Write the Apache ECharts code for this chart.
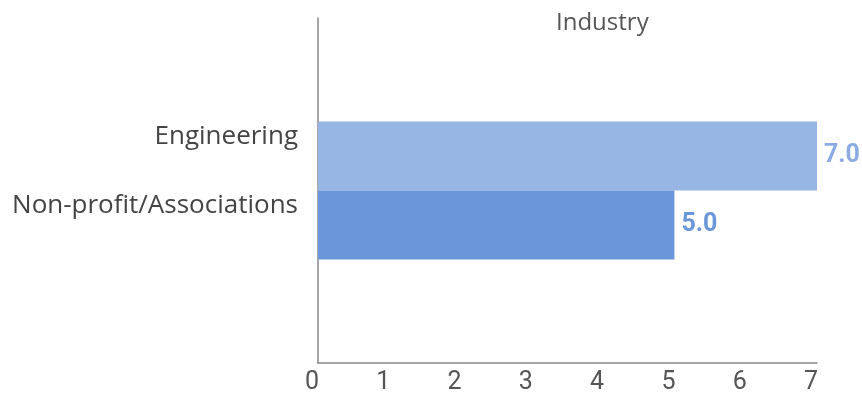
<!DOCTYPE html>
<html>
<head>
<meta charset="utf-8">
<script src="https://cdn.jsdelivr.net/npm/echarts@6/dist/echarts.min.js"></script>
<style>html,body{margin:0;padding:0;background:#fff}#c{width:862px;height:396px}</style>
</head>
<body>
<div id="c"></div>
<script>
const categories = ['', '', 'Engineering', 'Non-profit/Associations', '', ''];
const values = [null, null, 7, 5, null, null];
const barColors = [null, null, '#97b6e4', '#6a97da', null, null];
const labelColors = [null, null, '#8aabe3', '#6a97da', null, null];
const titleText = 'Industry';

const chart = echarts.init(document.getElementById('c'), null, {renderer: 'canvas'});
chart.setOption({
  animation: false,
  title: {
    text: titleText,
    left: 551, top: 6,
    textStyle: {fontFamily: 'Open Sans', fontSize: 24, fontWeight: 'normal', color: '#555'}
  },
  grid: {left: 318, right: 45, top: 18, bottom: 33, containLabel: false},
  xAxis: {
    type: 'value', min: 0, max: 7, interval: 1,
    splitLine: {show: false},
    axisTick: {show: false},
    axisLine: {show: true, lineStyle: {color: '#888', width: 1.5}},
    axisLabel: {fontFamily: 'Roboto', fontSize: 25, color: '#555', margin: 7, padding: [0, 12, 0, 0]}
  },
  yAxis: {
    type: 'category', data: categories, boundaryGap: false, inverse: true,
    axisTick: {show: false},
    axisLine: {show: true, lineStyle: {color: '#888', width: 1.5}},
    axisLabel: {fontFamily: 'Open Sans', fontSize: 26, color: '#444', margin: 20,
      verticalAlign: 'bottom', lineHeight: 38, interval: 0}
  },
  series: [{
    type: 'bar',
    barWidth: '100%',
    data: values.map((v, i) => v == null ? null : {
      value: v,
      itemStyle: {color: barColors[i]},
      label: {color: labelColors[i]}
    }),
    label: {
      show: true, position: 'right', distance: 7,
      fontFamily: 'Roboto', fontSize: 25, fontWeight: 'bold',
      formatter: p => p.value.toFixed(1)
    }
  }]
});
</script>
</body>
</html>
